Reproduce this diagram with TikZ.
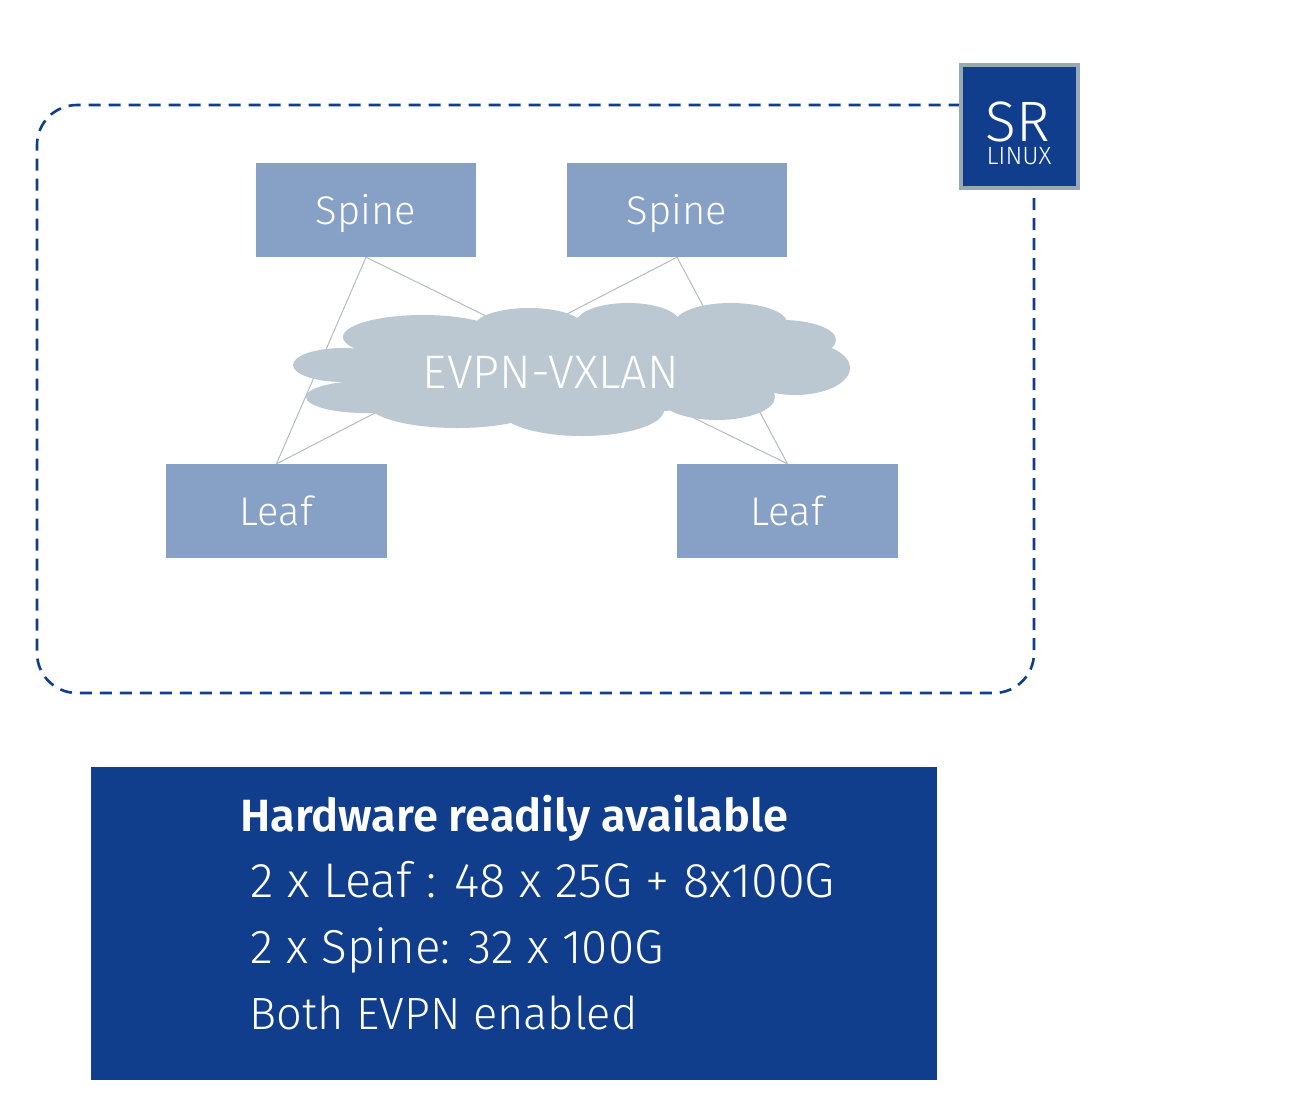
\documentclass[tikz,border=0pt]{standalone}
\usepackage{fontspec}
\setmainfont{Fira Sans Light}[BoldFont={Fira Sans SemiBold}]
\definecolor{navy}{HTML}{103E8C}
\definecolor{boxblue}{HTML}{87A0C5}
\definecolor{cloudgrey}{HTML}{BBC8D1}
\definecolor{linkgrey}{HTML}{B4BCC2}
\definecolor{edgegrey}{HTML}{9AA7B5}
\tikzset{
  devbox/.style={draw=none,fill=boxblue,text=white,minimum width=220.5pt,minimum height=94pt,inner sep=0pt,text height=28pt,text depth=0pt,font=\fontsize{40}{40}\selectfont},
  link/.style={draw=linkgrey,line width=1pt},
  infoline/.style={text=white,anchor=base west,inner sep=0pt}
}
\begin{document}
\begin{tikzpicture}[x=1pt,y=-1pt]
\useasboundingbox (0,0) rectangle (1300,1106);
\fill[white] (0,0) rectangle (1300,1106);
\draw[navy,line width=2.6pt,dash pattern=on 12pt off 8pt,rounded corners=40pt] (1034,198) -- (1034,693) -- (37,693) -- (37,105) -- (1000,105);
\node[devbox] (spineA) at (366,210) {Spine};
\node[devbox] (spineB) at (677,210) {Spine};
\node[devbox] (leafA) at (276.5,511) {Leaf};
\node[devbox] (leafB) at (787.5,511) {Leaf};
\draw[link] (spineA.south) -- (leafA.north);
\draw[link] (spineA.south) -- (leafB.north);
\draw[link] (spineB.south) -- (leafA.north);
\draw[link] (spineB.south) -- (leafB.north);
\fill[cloudgrey]
  (343,365) ellipse [x radius=50, y radius=17]
  (423,337) ellipse [x radius=80, y radius=22]
  (365,397) ellipse [x radius=59, y radius=16]
  (529,327) ellipse [x radius=55, y radius=19]
  (628,323) ellipse [x radius=52, y radius=20]
  (731,323) ellipse [x radius=56, y radius=20]
  (782,340) ellipse [x radius=54, y radius=20]
  (795,368) ellipse [x radius=55, y radius=27]
  (717,397) ellipse [x radius=58, y radius=23]
  (582,410) ellipse [x radius=82, y radius=26]
  (457,403) ellipse [x radius=90, y radius=25]
  (570,368) ellipse [x radius=215, y radius=48];
\node[text=white,inner sep=0pt,font=\fontsize{47}{47}\selectfont] (cloudlabel) at (551,372) {EVPN-VXLAN};
\node[draw=edgegrey,fill=navy,line width=4pt,minimum width=117pt,minimum height=123pt,inner sep=0pt] (srbox) at (1019,126.5) {};
\node[text=white,inner sep=0pt,font=\fontsize{57}{57}\selectfont] (srtext) at (1018,122) {SR};
\node[text=white,inner sep=0pt,font=\fontsize{25}{25}\selectfont] (linuxtext) at (1019,156) {LINUX};
\node[fill=navy,minimum width=846.5pt,minimum height=313pt,inner sep=0pt] (infobox) at (514,923) {};
\node[infoline,font=\fontsize{45.2}{45.2}\selectfont\bfseries] (l1) at (240,831) {Hardware readily available};
\node[infoline,font=\fontsize{48.7}{48.7}\selectfont] (l2) at (250,897) {2 x Leaf : 48 x 25G + 8x100G};
\node[infoline,font=\fontsize{47.6}{47.6}\selectfont] (l3) at (250,963) {2 x Spine: 32 x 100G};
\node[infoline,font=\fontsize{45.2}{45.2}\selectfont] (l4) at (249,1029) {Both EVPN enabled};
\end{tikzpicture}
\end{document}
